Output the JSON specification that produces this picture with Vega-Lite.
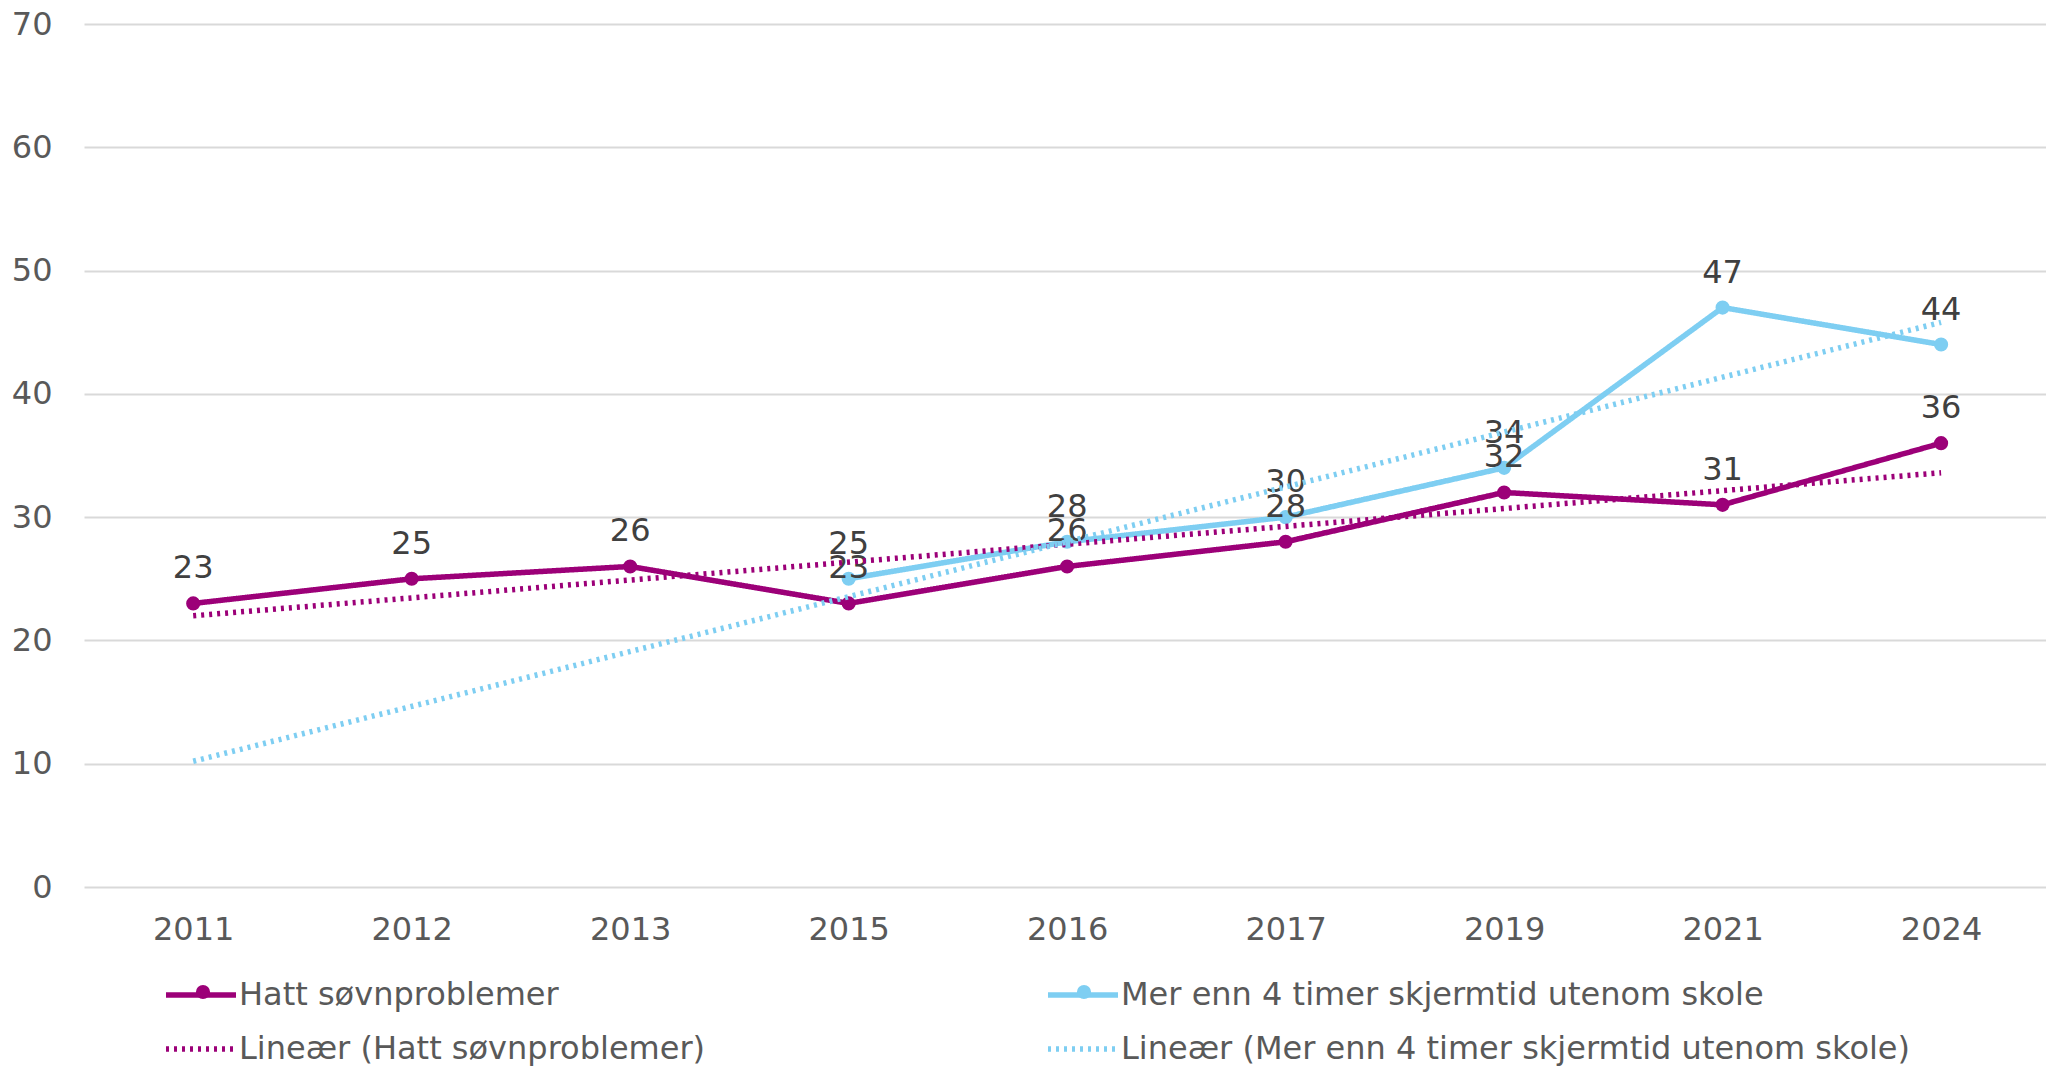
{
  "$schema": "https://vega.github.io/schema/vega-lite/v6.json",
  "autosize": "none",
  "padding": {"left": 84, "top": 24, "right": 0, "bottom": 179},
  "width": 1962,
  "height": 863,
  "background": "white",
  "config": {
    "font": "DejaVu Sans",
    "view": {"stroke": null},
    "axis": {"labelFont": "DejaVu Sans", "labelFontSize": 32, "labelColor": "#595959"}
  },
  "datasets": {
    "series": [
      {"year": "2011", "serie": "Hatt søvnproblemer", "value": 23},
      {"year": "2012", "serie": "Hatt søvnproblemer", "value": 25},
      {"year": "2013", "serie": "Hatt søvnproblemer", "value": 26},
      {"year": "2015", "serie": "Hatt søvnproblemer", "value": 23},
      {"year": "2016", "serie": "Hatt søvnproblemer", "value": 26},
      {"year": "2017", "serie": "Hatt søvnproblemer", "value": 28},
      {"year": "2019", "serie": "Hatt søvnproblemer", "value": 32},
      {"year": "2021", "serie": "Hatt søvnproblemer", "value": 31},
      {"year": "2024", "serie": "Hatt søvnproblemer", "value": 36},
      {"year": "2015", "serie": "Mer enn 4 timer skjermtid utenom skole", "value": 25},
      {"year": "2016", "serie": "Mer enn 4 timer skjermtid utenom skole", "value": 28},
      {"year": "2017", "serie": "Mer enn 4 timer skjermtid utenom skole", "value": 30},
      {"year": "2019", "serie": "Mer enn 4 timer skjermtid utenom skole", "value": 34},
      {"year": "2021", "serie": "Mer enn 4 timer skjermtid utenom skole", "value": 47},
      {"year": "2024", "serie": "Mer enn 4 timer skjermtid utenom skole", "value": 44}
    ],
    "trend": [
      {"year": "2011", "serie": "Lineær (Hatt søvnproblemer)", "value": 22.0},
      {"year": "2024", "serie": "Lineær (Hatt søvnproblemer)", "value": 33.6},
      {"year": "2011", "serie": "Lineær (Mer enn 4 timer skjermtid utenom skole)", "value": 10.2},
      {"year": "2024", "serie": "Lineær (Mer enn 4 timer skjermtid utenom skole)", "value": 45.8}
    ]
  },
  "encoding": {
    "x": {
      "field": "year", "type": "ordinal",
      "sort": ["2011", "2012", "2013", "2015", "2016", "2017", "2019", "2021", "2024"],
      "scale": {"domain": ["2011", "2012", "2013", "2015", "2016", "2017", "2019", "2021", "2024"], "padding": 0.49, "align": 0.51},
      "axis": {"title": null, "labelAngle": 0, "ticks": false, "domain": false, "grid": false, "labelPadding": 27}
    },
    "y": {
      "field": "value", "type": "quantitative",
      "scale": {"domain": [0, 70]},
      "axis": {"title": null, "values": [0, 10, 20, 30, 40, 50, 60, 70], "ticks": false, "domain": false, "grid": true, "gridColor": "#d9d9d9", "gridWidth": 2, "labelPadding": 32}
    }
  },
  "layer": [
    {
      "data": {"name": "series"},
      "mark": {"type": "line", "strokeCap": "round", "strokeJoin": "round"},
      "encoding": {
        "detail": {"field": "serie"},
        "color": {
          "field": "serie", "type": "nominal",
          "scale": {
            "domain": ["Hatt søvnproblemer", "Mer enn 4 timer skjermtid utenom skole", "Lineær (Hatt søvnproblemer)", "Lineær (Mer enn 4 timer skjermtid utenom skole)"],
            "range": ["#9C0078", "#7ECEF2", "#9C0078", "#7ECEF2"]
          },
          "legend": {
            "title": null, "orient": "none", "legendX": 79, "legendY": 933, "direction": "horizontal",
            "columns": 2, "columnPadding": 331, "rowPadding": -17, "padding": 0,
            "symbolType": "stroke", "symbolSize": 4900, "labelFont": "DejaVu Sans",
            "labelFontSize": 32, "labelColor": "#595959", "labelOffset": 0, "labelLimit": 1000
          }
        },
        "strokeDash": {
          "field": "serie", "type": "nominal",
          "scale": {
            "domain": ["Hatt søvnproblemer", "Mer enn 4 timer skjermtid utenom skole", "Lineær (Hatt søvnproblemer)", "Lineær (Mer enn 4 timer skjermtid utenom skole)"],
            "range": [[1, 0], [1, 0], [3, 5], [3, 5]]
          },
          "legend": {
            "title": null, "orient": "none", "legendX": 79, "legendY": 933, "direction": "horizontal",
            "columns": 2, "columnPadding": 331, "rowPadding": -17, "padding": 0,
            "symbolType": "stroke", "symbolSize": 4900, "labelFont": "DejaVu Sans",
            "labelFontSize": 32, "labelColor": "#595959", "labelOffset": 0, "labelLimit": 1000
          }
        },
        "strokeWidth": {
          "field": "serie", "type": "nominal",
          "scale": {
            "domain": ["Hatt søvnproblemer", "Mer enn 4 timer skjermtid utenom skole", "Lineær (Hatt søvnproblemer)", "Lineær (Mer enn 4 timer skjermtid utenom skole)"],
            "range": [5.5, 5.5, 3.5, 3.5]
          },
          "legend": {
            "title": null, "orient": "none", "legendX": 79, "legendY": 933, "direction": "horizontal",
            "columns": 2, "columnPadding": 331, "rowPadding": -17, "padding": 0,
            "symbolType": "stroke", "symbolSize": 4900, "labelFont": "DejaVu Sans",
            "labelFontSize": 32, "labelColor": "#595959", "labelOffset": 0, "labelLimit": 1000
          }
        }
      }
    },
    {
      "data": {"name": "series"},
      "mark": {"type": "point", "filled": true, "opacity": 1, "size": 200},
      "encoding": {
        "fill": {
          "field": "serie", "type": "nominal",
          "scale": {"domain": ["Hatt søvnproblemer", "Mer enn 4 timer skjermtid utenom skole"], "range": ["#9C0078", "#7ECEF2"]},
          "legend": {
            "title": null, "orient": "none", "legendX": 103, "legendY": 952, "direction": "horizontal",
            "columns": 2, "columnPadding": 849, "padding": 0,
            "symbolType": "circle", "symbolSize": 200, "symbolStrokeWidth": 0, "labelExpr": "''", "labelOffset": 0, "labelFontSize": 32
          }
        }
      }
    },
    {
      "data": {"name": "series"},
      "mark": {"type": "text", "baseline": "alphabetic", "dy": -25, "fontSize": 32, "font": "DejaVu Sans", "color": "#404040"},
      "encoding": {"text": {"field": "value", "type": "quantitative"}}
    },
    {
      "data": {"name": "trend"},
      "mark": {"type": "line"},
      "encoding": {
        "detail": {"field": "serie"},
        "color": {"field": "serie", "type": "nominal"},
        "strokeDash": {"field": "serie", "type": "nominal"},
        "strokeWidth": {"field": "serie", "type": "nominal"}
      }
    }
  ],
  "resolve": {"scale": {"color": "shared", "strokeDash": "shared", "strokeWidth": "shared"}}
}
